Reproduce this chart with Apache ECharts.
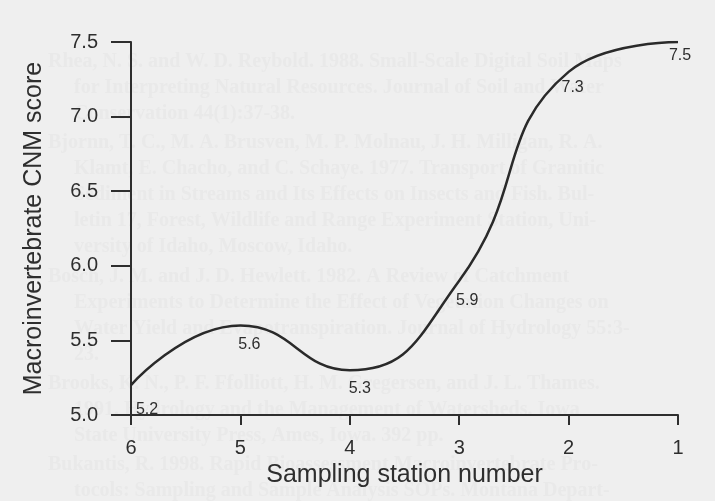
<!DOCTYPE html>
<html>
<head>
<meta charset="utf-8">
<script src="https://cdn.jsdelivr.net/npm/echarts@6/dist/echarts.min.js"></script>
<style>
  html, body { margin: 0; padding: 0; background: #efefef; }
  #chart { width: 715px; height: 501px; }
</style>
</head>
<body>
<div id="chart"></div>
<script>
// ---- data ----
const stations = ['6', '5', '4', '3', '2', '1'];
const cnmScores = [5.2, 5.6, 5.3, 5.9, 7.3, 7.5];
const yTicks = { min: 5.0, max: 7.5, step: 0.5 };
const xTitle = 'Sampling station number';
const yTitle = 'Macroinvertebrate CNM score';

// faint bleed-through text of the scanned page (background only)
const ghostEntries = [
  ['Rhea, N. S. and W. D. Reybold. 1988. Small-Scale Digital Soil Maps',
   'for Interpreting Natural Resources. Journal of Soil and Water',
   'Conservation 44(1):37-38.'],
  ['Bjornn, T. C., M. A. Brusven, M. P. Molnau, J. H. Milligan, R. A.',
   'Klamt, E. Chacho, and C. Schaye. 1977. Transport of Granitic',
   'Sediment in Streams and Its Effects on Insects and Fish. Bul-',
   'letin 17, Forest, Wildlife and Range Experiment Station, Uni-',
   'versity of Idaho, Moscow, Idaho.'],
  ['Bosch, J. M. and J. D. Hewlett. 1982. A Review of Catchment',
   'Experiments to Determine the Effect of Vegetation Changes on',
   'Water Yield and Evapotranspiration. Journal of Hydrology 55:3-',
   '23.'],
  ['Brooks, K. N., P. F. Ffolliott, H. M. Gregersen, and J. L. Thames.',
   '1991. Hydrology and the Management of Watersheds. Iowa',
   'State University Press, Ames, Iowa. 392 pp.'],
  ['Bukantis, R. 1998. Rapid Bioassessment Macroinvertebrate Pro-',
   'tocols: Sampling and Sample Analysis SOPs. Montana Depart-']
];

// ---- styling (kept apart from data) ----
const ink = '#2e2e2e';
const labelOffsets = [[16, 6], [9, 1], [10, 0], [8, 1], [4, -3], [2, -5]];

const ghostGraphics = [];
let gy = 63, lineH = 26, entryGap = 3.25;
ghostEntries.forEach(function (entry) {
  entry.forEach(function (line, i) {
    ghostGraphics.push({
      type: 'text', silent: true, z: -10,
      left: i === 0 ? 48 : 74, top: gy - 11,
      style: { text: line, fill: '#e9e9e9', fontSize: 20, fontWeight: 'bold', fontFamily: '"Liberation Serif"' }
    });
    gy += lineH;
  });
  gy += entryGap;
});

const chart = echarts.init(document.getElementById('chart'), null, { renderer: 'canvas' });
chart.setOption({
  backgroundColor: '#efefef',
  animation: false,
  textStyle: { fontFamily: '"Liberation Sans", Arial, sans-serif' },
  graphic: ghostGraphics,
  grid: { left: 131, right: 37, top: 42, bottom: 86, containLabel: false },
  xAxis: {
    type: 'category',
    data: stations,
    boundaryGap: false,
    axisLine: { lineStyle: { color: ink, width: 2 } },
    axisTick: { show: true, length: 10, interval: 0, lineStyle: { color: ink, width: 2 } },
    axisLabel: { color: ink, fontSize: 20, margin: 23 },
    splitLine: { show: false },
    name: xTitle,
    nameLocation: 'middle',
    nameGap: 42,
    nameTextStyle: { color: ink, fontSize: 25 }
  },
  yAxis: {
    type: 'value',
    min: yTicks.min,
    max: yTicks.max,
    interval: yTicks.step,
    axisLine: { show: true, lineStyle: { color: ink, width: 2 } },
    axisTick: { show: true, length: 20, lineStyle: { color: ink, width: 2 } },
    axisLabel: { color: ink, fontSize: 20, margin: 33, formatter: function (v) { return v.toFixed(1); } },
    splitLine: { show: false },
    name: yTitle,
    nameLocation: 'middle',
    nameRotate: 90,
    nameGap: 84,
    nameTextStyle: { color: ink, fontSize: 25 }
  },
  series: [{
    type: 'line',
    data: cnmScores.map(function (v, i) {
      return { value: v, label: { show: true, offset: labelOffsets[i] } };
    }),
    smooth: 0.5,
    symbol: 'circle',
    symbolSize: 1,
    showSymbol: true,
    itemStyle: { color: 'rgba(0,0,0,0)' },
    lineStyle: { color: '#2a2a2a', width: 2.5 },
    label: {
      show: true,
      position: 'bottom',
      distance: 10,
      color: ink,
      fontSize: 16,
      formatter: function (p) { return p.value.toFixed(1); }
    }
  }]
});
</script>
</body>
</html>
